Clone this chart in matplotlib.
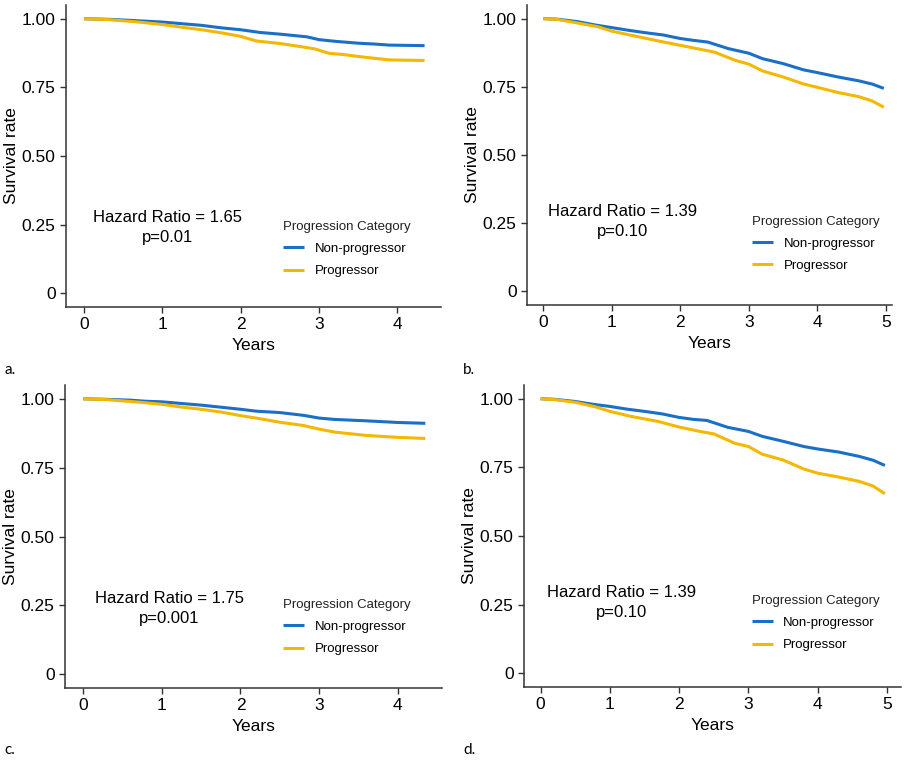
import matplotlib
matplotlib.use("Agg")
import matplotlib.pyplot as plt

plt.rcParams['font.family'] = ['Liberation Sans', 'DejaVu Sans']

# ---- data (Kaplan-Meier curves, many tiny steps) ----
# panel a
a_t_non = [0, 0.3, 0.6, 0.8, 1.0, 1.25, 1.5, 1.75, 2.0, 2.25, 2.5, 2.85, 3.0, 3.2, 3.5, 3.7, 3.9, 4.35]
a_s_non = [1.0, 0.998, 0.994, 0.991, 0.988, 0.982, 0.976, 0.967, 0.960, 0.950, 0.944, 0.934, 0.924, 0.918, 0.911, 0.908, 0.904, 0.902]
a_t_pro = [0, 0.3, 0.66, 1.0, 1.25, 1.5, 1.75, 2.0, 2.2, 2.5, 2.8, 2.95, 3.13, 3.3, 3.55, 3.9, 4.35]
a_s_pro = [1.0, 0.997, 0.989, 0.979, 0.969, 0.960, 0.949, 0.936, 0.919, 0.910, 0.897, 0.890, 0.874, 0.870, 0.861, 0.850, 0.848]

# panel b
b_t_non = [0, 0.2, 0.5, 0.75, 1.0, 1.25, 1.5, 1.75, 2.0, 2.2, 2.4, 2.7, 3.0, 3.2, 3.5, 3.8, 4.0, 4.3, 4.6, 4.8, 4.97]
b_s_non = [1.0, 0.998, 0.989, 0.977, 0.967, 0.957, 0.948, 0.940, 0.927, 0.920, 0.914, 0.890, 0.873, 0.853, 0.835, 0.812, 0.802, 0.786, 0.772, 0.760, 0.744]
b_t_pro = [0, 0.2, 0.5, 0.8, 1.0, 1.3, 1.7, 2.0, 2.3, 2.5, 2.8, 3.0, 3.2, 3.5, 3.8, 4.0, 4.3, 4.6, 4.8, 4.97]
b_s_pro = [1.0, 0.997, 0.984, 0.970, 0.954, 0.938, 0.917, 0.902, 0.887, 0.877, 0.847, 0.833, 0.808, 0.786, 0.760, 0.748, 0.729, 0.714, 0.698, 0.675]

# panel c
c_t_non = [0, 0.3, 0.6, 0.8, 1.0, 1.5, 2.0, 2.2, 2.5, 2.8, 3.0, 3.2, 3.6, 4.0, 4.35]
c_s_non = [1.0, 0.998, 0.995, 0.991, 0.989, 0.977, 0.962, 0.955, 0.950, 0.940, 0.930, 0.925, 0.920, 0.914, 0.911]
c_t_pro = [0, 0.3, 0.7, 1.0, 1.25, 1.5, 1.75, 2.0, 2.2, 2.5, 2.8, 3.0, 3.2, 3.6, 4.0, 4.35]
c_s_pro = [1.0, 0.997, 0.988, 0.980, 0.970, 0.962, 0.952, 0.939, 0.930, 0.915, 0.903, 0.890, 0.879, 0.867, 0.860, 0.856]

# panel d
d_t_non = [0, 0.2, 0.5, 0.75, 1.0, 1.25, 1.5, 1.75, 2.0, 2.2, 2.4, 2.7, 3.0, 3.2, 3.5, 3.8, 4.0, 4.3, 4.6, 4.8, 4.97]
d_s_non = [1.0, 0.998, 0.990, 0.980, 0.972, 0.962, 0.954, 0.945, 0.932, 0.925, 0.921, 0.896, 0.881, 0.863, 0.845, 0.826, 0.817, 0.806, 0.790, 0.776, 0.757]
d_t_pro = [0, 0.2, 0.5, 0.8, 1.0, 1.3, 1.7, 2.0, 2.3, 2.5, 2.8, 3.0, 3.2, 3.5, 3.8, 4.0, 4.3, 4.6, 4.8, 4.97]
d_s_pro = [1.0, 0.997, 0.987, 0.970, 0.954, 0.936, 0.917, 0.897, 0.881, 0.872, 0.838, 0.826, 0.798, 0.777, 0.744, 0.729, 0.715, 0.699, 0.682, 0.654]

hazard_text = ['Hazard Ratio = 1.65\np=0.01', 'Hazard Ratio = 1.39\np=0.10',
               'Hazard Ratio = 1.75\np=0.001', 'Hazard Ratio = 1.39\np=0.10']
panel_letters = ['a.', 'b.', 'c.', 'd.']
group_labels = ['Non-progressor', 'Progressor']

blue = '#1a6fc8'
yellow = '#f4b800'

fig = plt.figure(figsize=(9.08, 7.6), dpi=100)

# axes rectangles (figure fractions) and per-panel layout
rects = [[0.0727, 0.596, 0.4130, 0.3974],
         [0.5804, 0.599, 0.4020, 0.3944],
         [0.0716, 0.0947, 0.4150, 0.3987],
         [0.5771, 0.096, 0.4150, 0.3974]]
curves = [(a_t_non, a_s_non, a_t_pro, a_s_pro),
          (b_t_non, b_s_non, b_t_pro, b_s_pro),
          (c_t_non, c_s_non, c_t_pro, c_s_pro),
          (d_t_non, d_s_non, d_t_pro, d_s_pro)]
xlims = [(-0.23, 4.56), (-0.24, 5.09), (-0.23, 4.56), (-0.24, 5.2)]
xticks = [[0, 1, 2, 3, 4], [0, 1, 2, 3, 4, 5], [0, 1, 2, 3, 4], [0, 1, 2, 3, 4, 5]]
text_pos = [(1.07, 0.24), (1.15, 0.255), (1.10, 0.239), (1.17, 0.258)]
legend_pos = [(0.578, 0.285), (0.616, 0.297), (0.578, 0.294), (0.604, 0.305)]
letter_pos = [(0.005, 0.508), (0.51, 0.508), (0.005, 0.008), (0.51, 0.008)]

for i in range(4):
    ax = fig.add_axes(rects[i])
    t1, s1, t2, s2 = curves[i]
    ax.plot(t1, s1, color=blue, lw=2.2, label=group_labels[0], solid_capstyle='butt')
    ax.plot(t2, s2, color=yellow, lw=2.2, label=group_labels[1], solid_capstyle='butt')

    ax.set_xlim(*xlims[i])
    ax.set_ylim(-0.05, 1.05)
    ax.set_xticks(xticks[i])
    ax.set_yticks([0, 0.25, 0.5, 0.75, 1.0])
    ax.set_yticklabels(['0', '0.25', '0.50', '0.75', '1.00'])
    ax.tick_params(labelsize=12.5, length=4, width=1, color='#333333', labelcolor='black')
    for side in ['top', 'right']:
        ax.spines[side].set_visible(False)
    for side in ['left', 'bottom']:
        ax.spines[side].set_color('#333333')
        ax.spines[side].set_linewidth(1.1)
    ax.set_xlabel('Years', fontsize=12.5, labelpad=4)
    ax.set_ylabel('Survival rate', fontsize=12.5, labelpad=2)

    ax.text(text_pos[i][0], text_pos[i][1], hazard_text[i], ha='center', va='center',
            fontsize=12, linespacing=1.45)

    leg = ax.legend(title='Progression Category', loc='upper left',
                    bbox_to_anchor=legend_pos[i], frameon=False, fontsize=9.5,
                    title_fontsize=9.5, borderpad=0, borderaxespad=0,
                    handlelength=1.6, handletextpad=0.8, labelspacing=0.75,
                    alignment='left')
    leg.get_title().set_color('#222222')

    fig.text(letter_pos[i][0], letter_pos[i][1], panel_letters[i], va='baseline',
             fontsize=11, family=['Lato', 'DejaVu Sans'])

fig.savefig('out.png', dpi=100)
